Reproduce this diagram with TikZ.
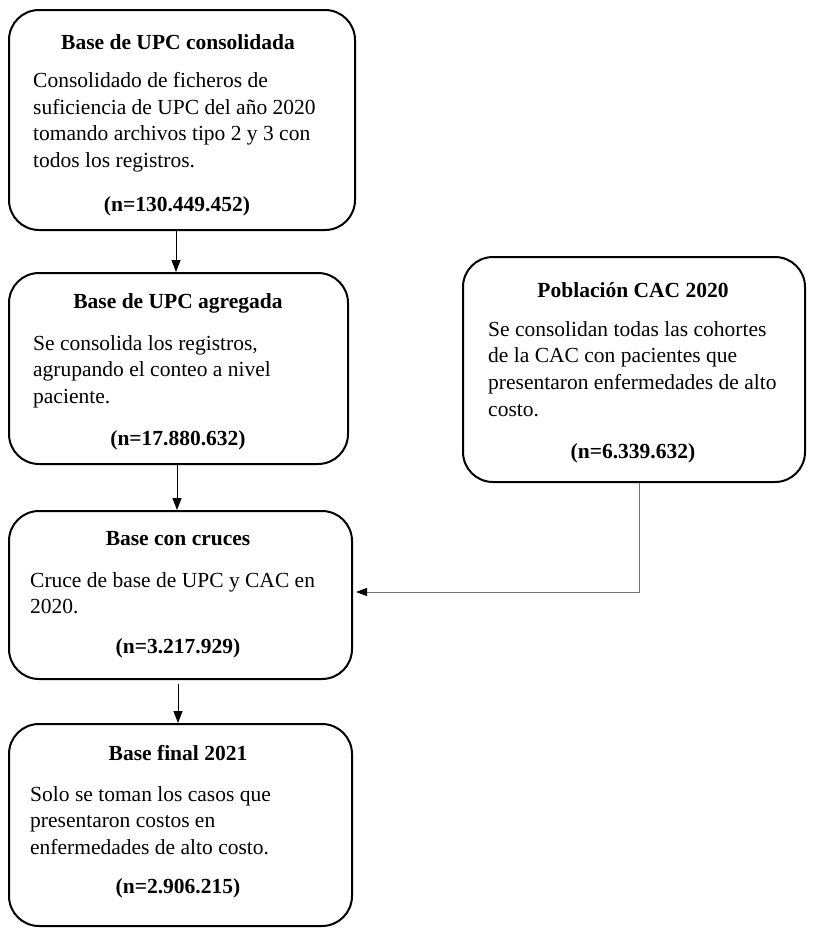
\documentclass[tikz,border=0pt]{standalone}
\usepackage{fontspec}
\setmainfont{Liberation Serif}
\usepackage{tikz}
\usetikzlibrary{arrows.meta,positioning}

\begin{document}
\begin{tikzpicture}[x=1pt,y=-1pt,
  box/.style={draw,line width=2pt,rounded corners=30pt,inner sep=0pt},
  title/.style={font=\fontsize{21.5}{26}\selectfont\bfseries,inner sep=0pt},
  body/.style={font=\fontsize{21.5}{26.7}\selectfont,align=left,anchor=north west,inner sep=0pt},
  arr/.style={-{Triangle[length=12pt,width=9pt]},line width=1pt},
  link/.style={-{Triangle[length=11pt,width=8pt,color=black]},line width=1pt,draw=black!55}]
  \useasboundingbox (0,0) rectangle (823,945);
  % boxes
  \node[box,minimum width=346pt,minimum height=220pt] (upc) at (182,120) {};
  \node[box,minimum width=339pt,minimum height=191pt] (agr) at (178.5,368.5) {};
  \node[box,minimum width=343pt,minimum height=168pt] (cru) at (180.5,595) {};
  \node[box,minimum width=343pt,minimum height=202pt] (fin) at (180.5,825) {};
  \node[box,minimum width=342pt,minimum height=225pt] (cac) at (634,369.5) {};
  % texts
  \node[title] (upc-t) at (178,42) {Base de UPC consolidada};
  \node[body] (upc-b) at (33,72) {Consolidado de ficheros de\\suficiencia de UPC del año 2020\\tomando archivos tipo 2 y 3 con\\todos los registros.};
  \node[title] (upc-n) at (177,206) {(n=130.449.452)};
  \node[title] (agr-t) at (178,303) {Base de UPC agregada};
  \node[body] (agr-b) at (33,335) {Se consolida los registros,\\agrupando el conteo a nivel\\paciente.};
  \node[title] (agr-n) at (178,440) {(n=17.880.632)};
  \node[title] (cru-t) at (178,539) {Base con cruces};
  \node[body] (cru-b) at (30,572) {Cruce de base de UPC y CAC en\\2020.};
  \node[title] (cru-n) at (178,648) {(n=3.217.929)};
  \node[title] (fin-t) at (178,753) {Base final 2021};
  \node[body] (fin-b) at (30,786) {Solo se toman los casos que\\presentaron costos en\\enfermedades de alto costo.};
  \node[title] (fin-n) at (178,888) {(n=2.906.215)};
  \node[title] (cac-t) at (633,290) {Población CAC 2020};
  \node[body] (cac-b) at (488,321) {Se consolidan todas las cohortes\\de la CAC con pacientes que\\presentaron enfermedades de alto\\costo.};
  \node[title] (cac-n) at (633,453) {(n=6.339.632)};
  % connectors
  \draw[arr] ([xshift=-6pt]upc.south) -- ([xshift=-6pt]upc.south |- agr.north);
  \draw[arr] ([xshift=-1.5pt]agr.south) -- ([xshift=-1.5pt]agr.south |- cru.north);
  \draw[arr] ([xshift=-2.5pt,yshift=-4pt]cru.south) -- ([xshift=-2.5pt]cru.south |- fin.north);
  \draw[link] ([xshift=5pt]cac.south) |- ([yshift=3pt,xshift=3pt]cru.east);
\end{tikzpicture}
\end{document}
